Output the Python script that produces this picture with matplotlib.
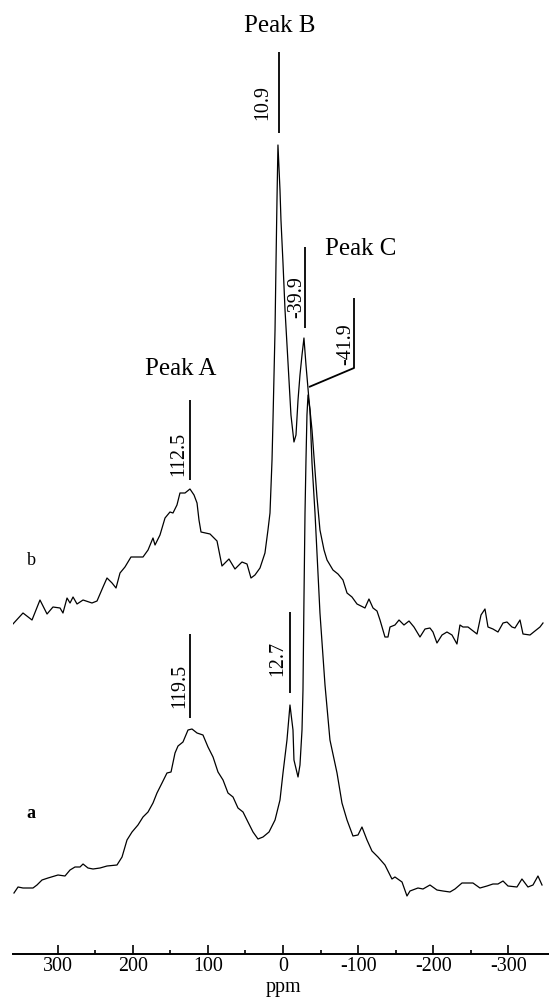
import numpy as np
import matplotlib
matplotlib.use('Agg')
import matplotlib.pyplot as plt

# font setup, times-like serif like the scanned figure
plt.rcParams['font.family'] = ['Liberation Serif', 'DejaVu Serif']

###################################################################
# data (ppm, intensity above each trace's own baseline)

# spectrum b (upper trace)
b_ppm = [360.6, 346.0, 334.0, 323.4, 314.0, 306.1, 296.7, 292.8, 287.4, 283.4,
         279.4, 274.1, 266.1, 254.2, 247.5, 239.5, 234.2, 227.5, 222.2, 216.9,
         210.3, 202.3, 186.3, 179.6, 173.0, 170.3, 163.7, 157.0, 150.4, 146.4,
         141.1, 137.1, 130.4, 123.8, 118.4, 114.4, 111.8, 109.1, 97.1, 87.8,
         81.2, 71.9, 63.9, 54.6, 47.9, 42.6, 37.3, 30.6, 24.0, 20.0,
         17.3, 14.6, 13.3, 10.6, 9.3, 8.0, 6.7, 4.0, 2.7, 0.0,
         -2.7, -6.7, -10.6, -14.6, -17.3, -20.0, -22.6, -25.3, -27.9, -30.6,
         -34.6, -38.6, -45.2, -49.2, -54.6, -58.6, -66.5, -73.2, -79.8, -85.2,
         -91.8, -98.5, -109.1, -114.4, -119.8, -125.1, -129.1, -135.7, -139.7, -142.4,
         -149.0, -154.4, -161.0, -167.7, -174.3, -182.3, -189.0, -195.6, -199.6, -204.9,
         -211.6, -218.2, -224.9, -231.5, -235.5, -239.5, -246.2, -258.2, -263.5, -268.8,
         -272.8, -279.4, -286.1, -292.8, -298.1, -304.7, -308.7, -315.4, -319.4, -328.7,
         -335.3, -342.0, -346.0]
b_int = [0, 12, 5, 25, 11, 18, 17, 12, 27, 22,
         28, 21, 25, 22, 24, 38, 47, 42, 37, 52,
         58, 68, 68, 75, 87, 80, 90, 107, 113, 112,
         120, 132, 132, 136, 130, 122, 105, 93, 91, 84,
         59, 66, 56, 63, 61, 47, 50, 57, 72, 95,
         112, 165, 205, 295, 362, 425, 480, 435, 405, 362,
         315, 262, 210, 183, 190, 225, 250, 270, 287, 260,
         225, 195, 128, 95, 75, 65, 55, 51, 45, 32,
         28, 21, 17, 26, 17, 14, 5, -12, -12, -2,
         0, 5, 0, 4, -2, -12, -4, -3, -7, -18,
         -10, -7, -10, -19, 0, -2, -2, -9, 10, 16,
         -2, -4, -7, 2, 3, -2, -3, 5, -9, -10,
         -6, -2, 2]

# spectrum a (lower trace)
a_ppm = [358.0, 352.6, 346.0, 339.3, 332.7, 327.4, 320.7, 312.7, 299.4, 290.1,
         283.4, 276.8, 270.1, 266.1, 259.5, 252.8, 243.5, 234.2, 220.9, 214.2,
         207.6, 200.9, 193.0, 186.3, 179.6, 173.0, 167.7, 161.0, 154.4, 149.0,
         143.7, 139.7, 133.1, 126.4, 121.1, 114.4, 106.5, 99.8, 93.1, 86.5,
         79.8, 73.2, 66.5, 59.9, 53.2, 46.6, 39.9, 33.3, 26.6, 18.6,
         10.6, 4.0, 0.0, -5.3, -9.3, -13.3, -14.6, -20.0, -22.6, -25.3,
         -26.6, -27.9, -29.3, -30.6, -31.9, -33.3, -35.9, -38.6, -42.6, -49.2,
         -55.9, -62.5, -71.9, -78.5, -85.2, -93.1, -99.8, -105.1, -111.8, -118.4,
         -126.4, -135.7, -145.0, -149.0, -158.4, -165.0, -169.0, -179.6, -186.3, -195.6,
         -204.9, -212.9, -222.2, -228.9, -238.2, -246.2, -252.8, -262.1, -271.5, -279.4,
         -286.1, -292.8, -299.4, -311.4, -318.0, -326.0, -332.7, -339.3, -344.7]
a_int = [7, 13, 12, 12, 12, 15, 20, 22, 25, 24,
         30, 33, 33, 36, 32, 31, 32, 34, 35, 43,
         60, 68, 75, 83, 88, 97, 107, 117, 127, 128,
         147, 154, 158, 170, 171, 167, 165, 153, 143, 128,
         120, 107, 103, 92, 88, 78, 68, 61, 63, 68,
         80, 100, 127, 160, 195, 170, 140, 123, 135, 170,
         210, 300, 387, 440, 485, 505, 490, 437, 387, 287,
         215, 160, 127, 97, 80, 64, 65, 73, 60, 49,
         43, 35, 21, 23, 18, 4, 9, 12, 11, 15,
         10, 9, 8, 11, 17, 17, 17, 12, 14, 16,
         16, 19, 14, 13, 21, 13, 15, 24, 15]

# vertical offsets of the two traces
a_offset = 54
b_offset = 329

# peak shift labels
shift_labels = ['10.9', '-39.9', '-41.9', '112.5', '119.5', '12.7']

# axis ticks
major_ticks = [300, 200, 100, 0, -100, -200, -300]
tick_labels = ['300', '200', '100', '0', '-100', '-200', '-300']
minor_ticks = [250, 150, 50, -50, -150, -250]

###################################################################

fig = plt.figure(figsize=(5.49, 10.02), dpi=100)
ax = fig.add_axes([13/549, 48/1002, 536/549, 954/1002])

ax.plot(b_ppm, np.array(b_int) + b_offset, color='black', lw=0.9)
ax.plot(a_ppm, np.array(a_int) + a_offset, color='black', lw=0.9)

ax.set_xlim(359.3, -354.0)
ax.set_ylim(0, 954)

# marker lines + rotated shift labels
mk = dict(color='black', lw=1.3, solid_capstyle='butt')
ax.plot([5.3, 5.3], [821, 902], **mk)
ax.plot([-29.3, -29.3], [626, 707], **mk)
ax.plot([-94.5, -94.5, -34.6], [656, 586, 567], **mk)
ax.plot([123.8, 123.8], [474, 554], **mk)
ax.plot([123.8, 123.8], [236, 320], **mk)
ax.plot([-9.3, -9.3], [261, 342], **mk)

lab_pos = [(26.6, 852), (-18.6, 657), (-83.8, 610), (138.4, 500), (137.1, 268), (6.7, 296)]
for (px, py), s in zip(lab_pos, shift_labels):
    ax.text(px, py, s, rotation=90, ha='center', va='center', fontsize=14.4)

ax.text(4.0, 922, 'Peak B', ha='center', va='baseline', fontsize=18)
ax.text(-103.8, 699, 'Peak C', ha='center', va='baseline', fontsize=18)
ax.text(135.7, 579, 'Peak A', ha='center', va='baseline', fontsize=18)
ax.text(335.3, 389, 'b', ha='center', va='baseline', fontsize=13)
ax.text(335.3, 136, 'a', ha='center', va='baseline', fontsize=13, fontweight='bold')

# axis styling, only the ppm scale at the bottom
for side in ['top', 'left', 'right']:
    ax.spines[side].set_visible(False)
ax.spines['bottom'].set_linewidth(1.4)
ax.set_yticks([])
ax.set_xticks(major_ticks, tick_labels)
ax.set_xticks(minor_ticks, minor=True)
ax.tick_params(axis='x', which='major', direction='in', length=6.5, width=1.2, labelsize=14.4, pad=2)
ax.tick_params(axis='x', which='minor', direction='in', length=3, width=1.2)

fig.text(283/549, 1 - 992/1002, 'ppm', ha='center', va='baseline', fontsize=14.4)

fig.savefig('out.png', dpi=100)
